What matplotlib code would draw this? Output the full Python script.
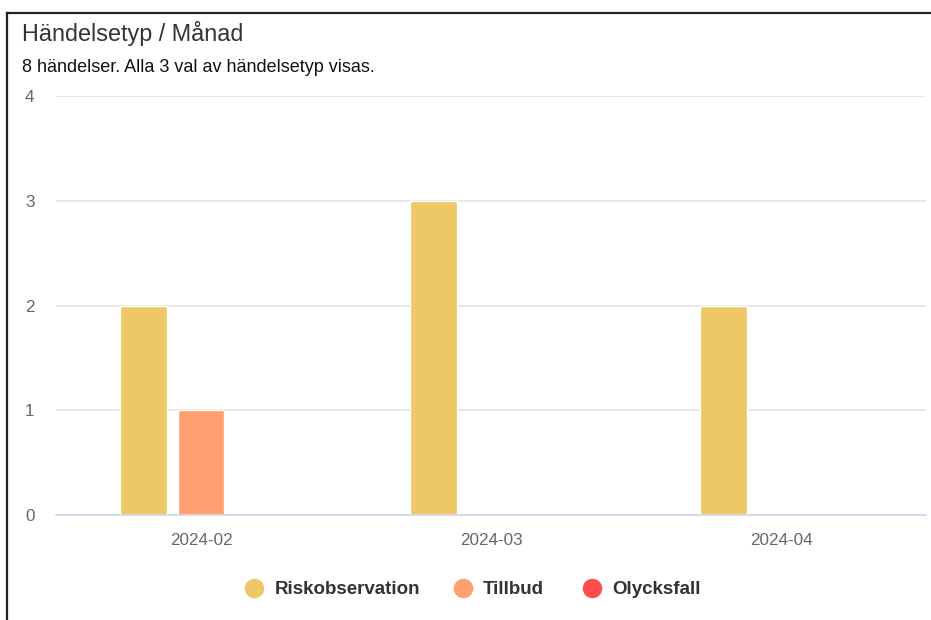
import matplotlib
matplotlib.use("Agg")
import matplotlib.pyplot as plt
import numpy as np
from matplotlib.lines import Line2D

plt.rcParams['font.family'] = ['Liberation Sans', 'DejaVu Sans']

categories = ["2024-02", "2024-03", "2024-04"]
series_names = ["Riskobservation", "Tillbud", "Olycksfall"]
riskobservation = [2, 3, 2]
tillbud = [1, 0, 0]
olycksfall = [0, 0, 0]
yticks = [0, 1, 2, 3, 4]
colors = ["#EEC866", "#FF9E6F", "#FF4D4F"]

W, H = 931, 620
fig = plt.figure(figsize=(W / 100, H / 100), dpi=100)
fig.patch.set_facecolor("white")

def fx(px): return px / W
def fy(py): return 1 - py / H

ax = fig.add_axes([fx(56), fy(515), fx(926) - fx(56), fy(96) - fy(515)])
x = np.arange(len(categories))
slot = 0.197
bw = 0.162
for i, (vals, c) in enumerate(zip([riskobservation, tillbud, olycksfall], colors)):
    ax.bar(x + (i - 1) * slot, vals, width=bw, color=c, edgecolor="white",
           linewidth=1, zorder=3)

ax.set_xlim(-0.5, len(categories) - 0.5)
ax.set_ylim(0, 4)
ax.set_yticks(yticks)
ax.set_yticklabels([str(t) for t in yticks])
ax.set_xticks(x)
ax.set_xticklabels(categories)
ax.grid(axis="y", color="#e6e6e6", linewidth=1.3, zorder=0)
ax.set_axisbelow(True)
for s in ["top", "right", "left"]:
    ax.spines[s].set_visible(False)
ax.spines["bottom"].set_color("#ccd6eb")
ax.spines["bottom"].set_linewidth(1.2)
ax.spines["bottom"].set_zorder(4)
ax.tick_params(axis="both", length=0, colors="#666666", labelsize=12.3)
ax.tick_params(axis="x", pad=13)
for lbl in ax.get_yticklabels():
    lbl.set_horizontalalignment("left")
ax.tick_params(axis="y", pad=(56 - 25) * 0.72)

fig.text(fx(22), fy(33), "Händelsetyp / Månad", fontsize=16.8, color="#333333",
         va="center", ha="left")
fig.text(fx(22), fy(68), "8 händelser. Alla 3 val av händelsetyp visas.", fontsize=13,
         color="#111111", va="center", ha="left")

# legend
leg_marker_x = [254, 463, 592]
leg_text_x = [275, 483, 612]
for mx, tx, name, c in zip(leg_marker_x, leg_text_x, series_names, colors):
    fig.add_artist(Line2D([fx(mx)], [fy(588)], marker="o", markersize=13,
                          color=c, linestyle="none"))
    fig.text(fx(tx), fy(589.5), name, fontsize=13.5, fontweight="bold",
             color="#333333", va="center", ha="left")

# outer frame
fig.add_artist(Line2D([fx(7), fx(7)], [fy(13), 0], color="#222222", linewidth=1.6))
fig.add_artist(Line2D([fx(7), 1], [fy(13), fy(13)], color="#222222", linewidth=1.6))

fig.savefig("out.png", dpi=100, facecolor="white")
